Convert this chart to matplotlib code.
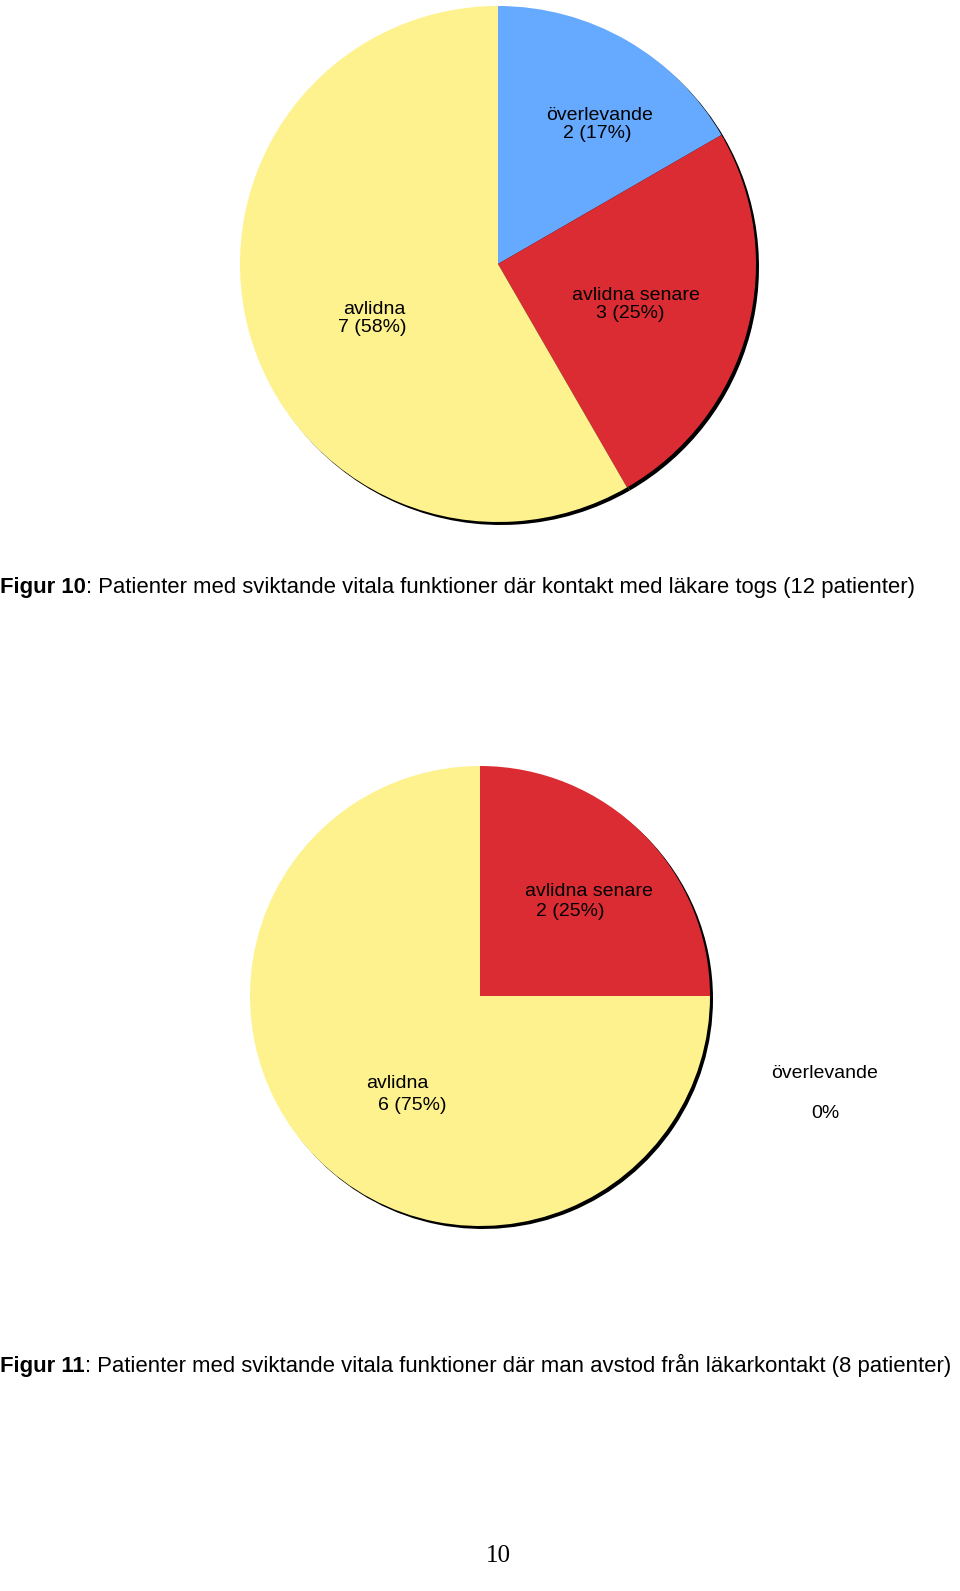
import matplotlib.pyplot as plt

# data
labels1 = ["överlevande", "avlidna senare", "avlidna"]
counts1 = [2, 3, 7]
labels2 = ["avlidna senare", "avlidna", "överlevande"]
counts2 = [2, 6, 0]
fig_nums = ["Figur 10", "Figur 11"]
caption1 = "Patienter med sviktande vitala funktioner där kontakt med läkare togs (12 patienter)"
caption2 = "Patienter med sviktande vitala funktioner där man avstod från läkarkontakt (8 patienter)"

blue = "#66aaff"
red = "#dc2c33"
yellow = "#fdf28e"
colors1 = [blue, red, yellow]
colors2 = [red, yellow, blue]

H = 1591
fig = plt.figure(figsize=(9.6, 15.91), dpi=100)
ax = fig.add_axes([0, 0, 1, 1])

def draw_pie(cx, cy, r, counts, colors):
    vals = [c for c in counts if c > 0]
    cols = [col for c, col in zip(counts, colors) if c > 0]
    # shadow
    ax.pie(vals, colors=["black"] * len(vals), center=(cx + 3, H - cy - 3), radius=r,
           startangle=90, counterclock=False, frame=True)
    ax.pie(vals, colors=cols, center=(cx, H - cy), radius=r,
           startangle=90, counterclock=False, frame=True)

draw_pie(498, 264, 258, counts1, colors1)
draw_pie(480, 996, 230, counts2, colors2)
ax.set_xlim(0, 960)
ax.set_ylim(0, H)
ax.set_aspect("auto")
ax.axis("off")

fs = 14
fam = ["Liberation Sans", "DejaVu Sans"]
tot1 = sum(counts1)
tot2 = sum(counts2)

def lab(n, tot):
    return f"{n} ({round(100 * n / tot)}%)"

# top pie labels
pos1 = [((600, 116), (597, 134)), ((636, 296), (630, 314)), ((374, 310), (372, 328))]
for name, n, (p1, p2) in zip(labels1, counts1, pos1):
    ax.text(p1[0], H - p1[1], name, ha="center", va="center", fontsize=fs, family=fam)
    ax.text(p2[0], H - p2[1], lab(n, tot1), ha="center", va="center", fontsize=fs, family=fam)

pos2 = [((589, 891), (570, 912)), ((397, 1083), (412, 1105)), ((825, 1074), (825, 1113))]
for name, n, (p1, p2) in zip(labels2, counts2, pos2):
    txt = lab(n, tot2) if n > 0 else "0%"
    ax.text(p1[0], H - p1[1], name, ha="center", va="center", fontsize=fs, family=fam)
    ax.text(p2[0], H - p2[1], txt, ha="center", va="center", fontsize=fs, family=fam)

# captions
for num, cap, y in zip(fig_nums, [caption1, caption2], [593, 1372]):
    t = ax.text(0, H - y, num, ha="left", va="baseline", fontsize=15.9,
                family=fam, fontweight="bold")
    ax.annotate(": " + cap, xy=(1, 0), xycoords=t, va="bottom", ha="left",
                fontsize=15.9, family=fam)

ax.text(498, H - 1556, "10", ha="center", va="center", fontsize=18,
        family=["Liberation Serif", "DejaVu Serif"])

fig.savefig("out.png", dpi=100)
